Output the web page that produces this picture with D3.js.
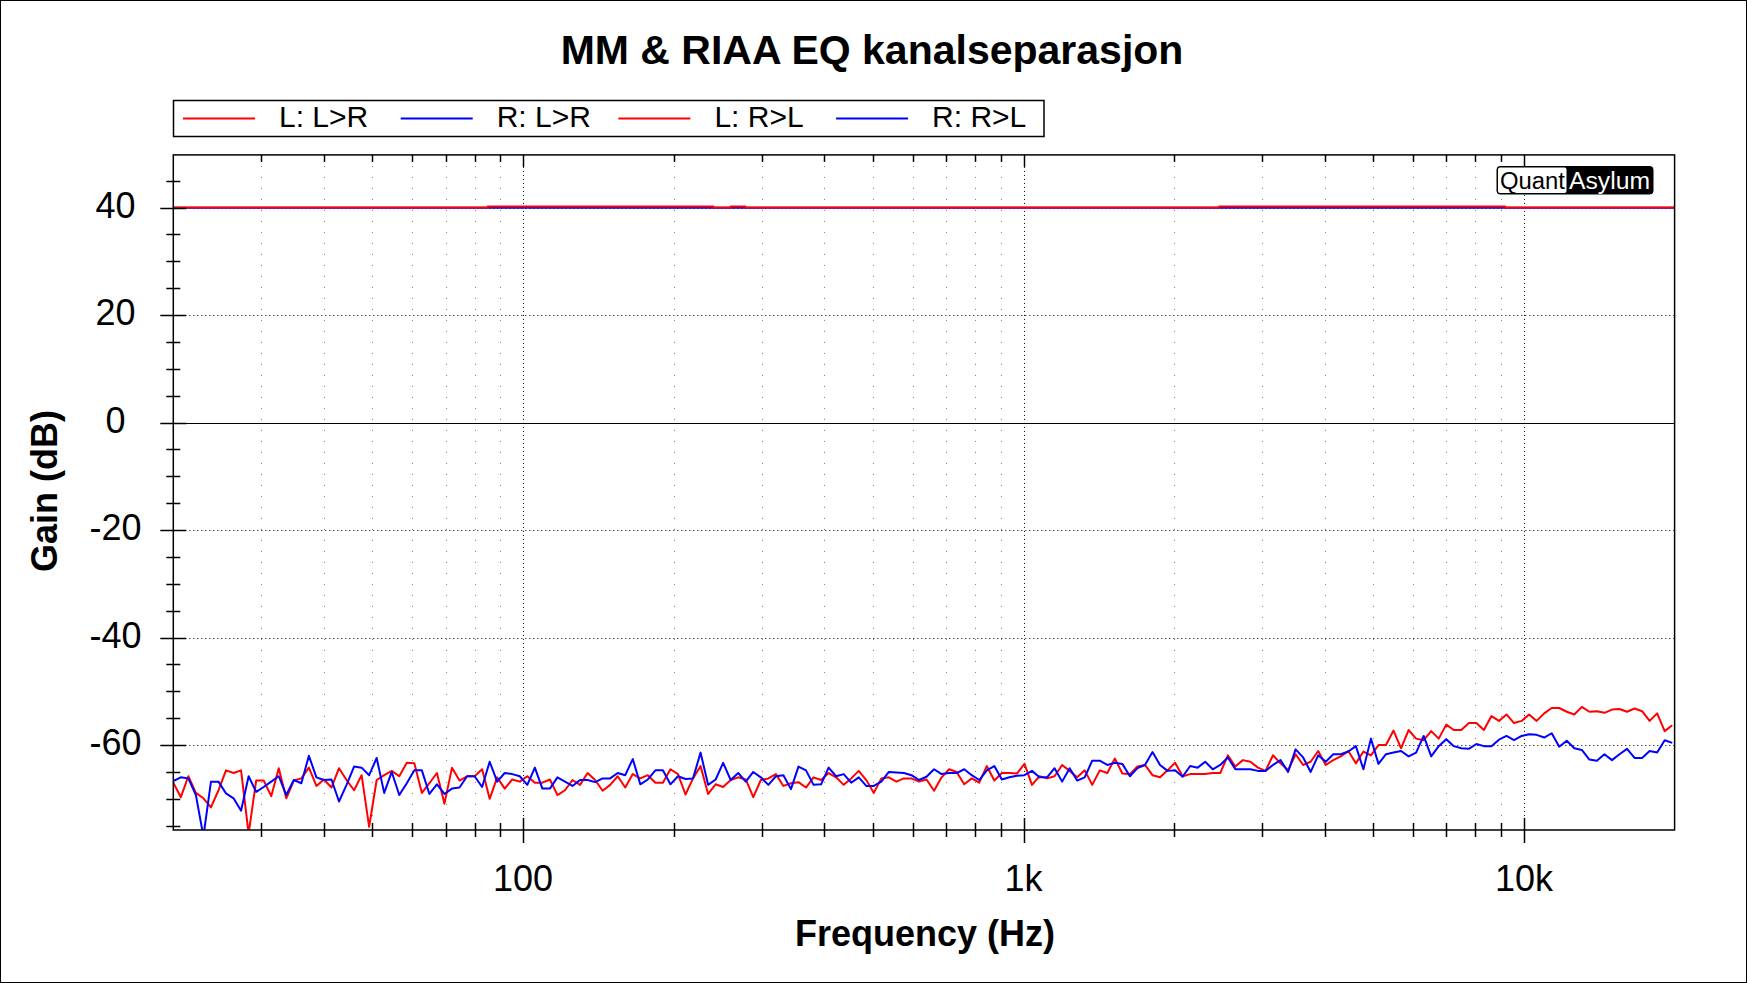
<!DOCTYPE html>
<html>
<head>
<meta charset="utf-8">
<script src="https://cdn.jsdelivr.net/npm/d3@7"></script>
<style>
  html, body { margin: 0; padding: 0; background: #fff; }
  svg { display: block; }
  text { font-family: "Liberation Sans", Arial, sans-serif; }
</style>
</head>
<body>
<svg id="chart" width="1747" height="983"></svg>
<script>
// ---------------- DATA ----------------
const titleText = "MM & RIAA EQ kanalseparasjon";
const xTitle = "Frequency (Hz)";
const yTitle = "Gain (dB)";
const seriesNames = ["L: L>R", "R: L>R", "L: R>L", "R: R>L"];
const seriesColors = ["#ff0000", "#0000ff", "#ff0000", "#0000ff"];

const xDomain = [20, 20000];
const yDomain = [-75.8, 49.8];
const xMajorTicks = [100, 1000, 10000];
const xMajorLabels = ["100", "1k", "10k"];
const xMinorTicks = [30, 40, 50, 60, 70, 80, 90, 200, 300, 400, 500, 600, 700, 800, 900,
  2000, 3000, 4000, 5000, 6000, 7000, 8000, 9000];
const yMajorTicks = [40, 20, 0, -20, -40, -60];
const yMinorTicks = [45, 35, 30, 25, 15, 10, 5, -5, -10, -15, -25, -30, -35, -45, -50, -55, -65, -70, -75];

// 1/20-octave measurement grid, 20 Hz .. ~19.4 kHz (200 points)
const freqs = d3.range(200).map(i => 20 * Math.pow(2, i / 20));

// Driven-channel gain (step segments): [fStart, fEnd, dB]
const gainLLR = [[20, 85, 40.0], [85, 240, 40.2], [240, 260, 40.0], [260, 278, 40.2],
  [278, 2460, 40.0], [2460, 9170, 40.2], [9170, 20000, 40.0]];
const gainRRL = [[20, 20000, 39.95]];

// Crosstalk: L: R>L (red)
const crossLRL = [
  -67.0, -69.7, -65.8, -68.9, -69.9, -71.6, -68.4, -64.7, -65.2, -64.7,
  -76.5, -66.6, -66.6, -69.5, -64.3, -69.9, -66.6, -66.2, -64.2, -67.6,
  -66.4, -67.9, -64.3, -66.5, -68.4, -65.6, -75.2, -66.5, -65.6, -64.8,
  -65.8, -63.3, -63.4, -68.9, -67.1,
  -65.2, -70.9, -64.2, -66.6, -65.8, -65.8, -64.5, -70.0, -66.0, -68.1,
  -66.4, -66.8, -65.8, -67.0, -67.0, -66.4, -69.3, -68.4, -66.5, -67.4,
  -65.2, -66.5, -68.5, -67.4, -65.8, -67.9, -65.4, -66.2, -65.6, -67.0,
  -67.0, -64.5, -65.4, -69.2,
  -66.2, -63.9, -69.1, -67.3, -67.8, -66.5, -66.0, -66.4, -69.7, -66.5,
  -66.2, -65.4, -67.6, -67.1, -66.9, -67.9, -66.0, -66.5, -65.2, -66.0,
  -67.4, -66.2, -64.8, -66.5, -68.9, -66.2, -66.0, -66.8, -66.2, -66.2,
  -66.8, -66.4, -68.5, -66.0,
  -64.5, -65.0, -67.3, -66.2, -67.0, -63.9, -66.6, -65.2, -65.2, -65.3,
  -63.5, -67.4, -65.8, -66.2, -65.8, -63.7, -64.8, -66.0, -64.7, -67.4,
  -64.7, -65.2, -62.5, -65.3, -65.4, -64.0, -63.7, -65.6, -66.0, -64.7,
  -63.3, -65.8, -65.4, -65.4, -65.4,
  -65.2, -65.2, -61.9, -64.0, -62.8, -63.1, -64.2, -64.8, -61.9, -63.4,
  -64.7, -61.7, -63.7, -63.1, -61.1, -63.7, -62.8, -62.1, -61.1, -63.4,
  -61.2, -61.9, -60.0, -60.0, -57.3, -60.6, -57.2, -58.8, -59.1, -57.4,
  -58.8, -56.2, -57.2, -57.2,
  -55.9, -55.9, -57.2, -54.6, -55.5, -54.3, -55.9, -55.5, -54.3, -55.5,
  -54.1, -53.1, -53.1, -53.8, -54.3, -52.9, -53.8, -53.7, -54.0, -53.4,
  -53.3, -53.8, -53.2, -53.7, -55.5, -54.1, -57.4, -56.3
];

// Crosstalk: R: L>R (blue)
const crossRLR = [
  -66.7, -66.0, -66.2, -69.3, -77.0, -66.8, -66.8, -69.0, -69.9, -72.2,
  -65.8, -68.7, -67.8, -66.8, -65.8, -69.3, -66.5, -67.1, -62.0, -66.0,
  -66.5, -66.4, -70.5, -67.4, -64.0, -64.2, -65.6, -62.4, -68.9, -65.0,
  -69.3, -67.1, -64.7, -64.7, -69.1,
  -67.3, -69.1, -68.1, -67.9, -65.8, -65.8, -67.8, -63.1, -66.8, -65.2,
  -65.4, -65.8, -67.4, -64.2, -68.1, -68.1, -66.0, -66.8, -67.6, -66.5,
  -66.5, -66.9, -66.2, -66.2, -65.2, -65.6, -62.6, -67.3, -66.4, -64.7,
  -64.7, -67.3, -65.8, -66.3,
  -66.2, -61.4, -67.4, -66.4, -63.3, -66.5, -65.2, -66.8, -65.0, -66.0,
  -67.4, -65.8, -65.6, -68.2, -64.0, -64.7, -67.4, -67.3, -64.2, -65.8,
  -65.4, -67.0, -66.0, -67.6, -67.6, -66.8, -65.0, -65.1, -65.2, -65.6,
  -66.5, -65.9, -64.5, -65.4,
  -65.2, -65.2, -64.5, -65.6, -66.5, -64.7, -63.9, -66.4, -66.0, -65.7,
  -65.6, -64.8, -66.0, -66.0, -64.3, -66.8, -64.3, -66.6, -66.0, -62.9,
  -62.9, -63.7, -63.3, -63.5, -65.8, -64.3, -63.7, -61.3, -63.7, -64.8,
  -64.7, -65.9, -63.9, -64.2, -63.1,
  -64.5, -63.7, -62.3, -64.5, -64.5, -64.5, -64.8, -64.8, -63.7, -62.8,
  -65.0, -60.8, -62.3, -65.0, -61.9, -63.1, -61.7, -61.7, -61.2, -60.2,
  -64.5, -58.8, -63.5, -61.7, -61.4, -61.1, -62.1, -61.4, -58.3, -62.1,
  -60.2, -58.9, -60.2, -60.6,
  -60.7, -59.8, -60.2, -60.2, -59.0, -58.3, -59.1, -58.3, -58.0, -58.1,
  -58.6, -57.8, -60.3, -59.2, -60.6, -60.9, -62.7, -62.9, -61.7, -62.8,
  -61.7, -60.7, -62.4, -62.4, -61.1, -61.4, -59.1, -59.6
];

// ---------------- CHART ----------------
const W = 1747, H = 983;
const plot = { left: 173.3, right: 1674.6, top: 154.9, bottom: 830 };
const svg = d3.select("#chart");

svg.append("rect").attr("x", 0.5).attr("y", 0.5).attr("width", W - 1).attr("height", H - 1)
  .attr("fill", "#fff").attr("stroke", "#000").attr("stroke-width", 1);

const x = d3.scaleLog().domain(xDomain).range([plot.left, plot.right]);
const y = d3.scaleLinear().domain(yDomain).range([plot.bottom, plot.top]);

svg.append("defs").append("clipPath").attr("id", "clip")
  .append("rect").attr("x", plot.left).attr("y", plot.top)
  .attr("width", plot.right - plot.left).attr("height", plot.bottom - plot.top);

const grid = svg.append("g");
grid.selectAll(".vmin").data(xMinorTicks).join("line")
  .attr("x1", d => Math.round(x(d)) + 0.5).attr("x2", d => Math.round(x(d)) + 0.5)
  .attr("y1", plot.top).attr("y2", plot.bottom)
  .attr("stroke", "#777").attr("stroke-width", 1).attr("stroke-dasharray", "1,10");
grid.selectAll(".vmaj").data(xMajorTicks).join("line")
  .attr("x1", d => Math.round(x(d)) + 0.5).attr("x2", d => Math.round(x(d)) + 0.5)
  .attr("y1", plot.top).attr("y2", plot.bottom)
  .attr("stroke", "#000").attr("stroke-width", 1).attr("stroke-dasharray", "1,3");
grid.selectAll(".hmaj").data(yMajorTicks.filter(d => d !== 0)).join("line")
  .attr("x1", plot.left).attr("x2", plot.right)
  .attr("y1", d => Math.round(y(d)) + 0.5).attr("y2", d => Math.round(y(d)) + 0.5)
  .attr("stroke", "#000").attr("stroke-width", 1).attr("stroke-dasharray", "1,3");
grid.append("line").attr("x1", plot.left).attr("x2", plot.right)
  .attr("y1", Math.round(y(0)) + 0.5).attr("y2", Math.round(y(0)) + 0.5)
  .attr("stroke", "#000").attr("stroke-width", 1);

// traces
const traces = svg.append("g").attr("clip-path", "url(#clip)");
const line = d3.line().x(d => x(d[0])).y(d => y(d[1]));
function stepPoints(segs) {
  const pts = [];
  segs.forEach(s => { pts.push([s[0], s[2]]); pts.push([s[1], s[2]]); });
  return pts;
}
const drawOrder = [
  { pts: stepPoints(gainRRL), color: seriesColors[3] },
  { pts: freqs.map((f, i) => [f, crossLRL[i]]), color: seriesColors[2] },
  { pts: freqs.map((f, i) => [f, crossRLR[i]]), color: seriesColors[1] },
  { pts: stepPoints(gainLLR), color: seriesColors[0] }
];
drawOrder.forEach(s => {
  traces.append("path").datum(s.pts).attr("d", line)
    .attr("fill", "none").attr("stroke", s.color).attr("stroke-width", 2)
    .attr("stroke-linejoin", "round");
});

// plot frame
svg.append("rect").attr("x", plot.left).attr("y", plot.top)
  .attr("width", plot.right - plot.left).attr("height", plot.bottom - plot.top)
  .attr("fill", "none").attr("stroke", "#000").attr("stroke-width", 1.5);

// ticks
const ticks = svg.append("g").attr("stroke", "#000").attr("stroke-width", 1.5);
xMinorTicks.forEach(d => {
  const xx = Math.round(x(d)) + 0.5;
  ticks.append("line").attr("x1", xx).attr("x2", xx).attr("y1", plot.bottom - 7).attr("y2", plot.bottom + 7);
  ticks.append("line").attr("x1", xx).attr("x2", xx).attr("y1", plot.top).attr("y2", plot.top + 7);
});
xMajorTicks.forEach(d => {
  const xx = Math.round(x(d)) + 0.5;
  ticks.append("line").attr("x1", xx).attr("x2", xx).attr("y1", plot.bottom - 12).attr("y2", plot.bottom + 13);
  ticks.append("line").attr("x1", xx).attr("x2", xx).attr("y1", plot.top).attr("y2", plot.top + 12);
});
yMinorTicks.forEach(d => {
  const yy = Math.round(y(d)) + 0.5;
  ticks.append("line").attr("x1", plot.left - 7).attr("x2", plot.left + 7).attr("y1", yy).attr("y2", yy);
});
yMajorTicks.forEach(d => {
  const yy = Math.round(y(d)) + 0.5;
  ticks.append("line").attr("x1", plot.left - 13).attr("x2", plot.left + 13).attr("y1", yy).attr("y2", yy);
});

// tick labels
svg.selectAll(".xl").data(xMajorTicks).join("text")
  .attr("x", d => x(d)).attr("y", 891)
  .attr("text-anchor", "middle").attr("font-size", 36).attr("fill", "#000")
  .text((d, i) => xMajorLabels[i]);
svg.selectAll(".yl").data(yMajorTicks).join("text")
  .attr("x", 115.5).attr("y", d => y(d) - 3).attr("dy", "0.36em")
  .attr("text-anchor", "middle").attr("font-size", 36).attr("fill", "#000")
  .text(d => d);

// titles
svg.append("text").attr("x", 872).attr("y", 64).attr("text-anchor", "middle")
  .attr("font-size", 41).attr("font-weight", "bold").text(titleText);
svg.append("text").attr("x", 925).attr("y", 946).attr("text-anchor", "middle")
  .attr("font-size", 36).attr("font-weight", "bold").text(xTitle);
svg.append("text").attr("transform", "translate(57,491) rotate(-90)").attr("text-anchor", "middle")
  .attr("font-size", 36).attr("font-weight", "bold").text(yTitle);

// legend
const lg = svg.append("g");
lg.append("rect").attr("x", 173.5).attr("y", 100.5).attr("width", 870.5).attr("height", 36)
  .attr("fill", "#fff").attr("stroke", "#000").attr("stroke-width", 1.5);
seriesNames.forEach((name, i) => {
  const x0 = 183 + i * 217.7;
  lg.append("line").attr("x1", x0).attr("x2", x0 + 72).attr("y1", 118.5).attr("y2", 118.5)
    .attr("stroke", seriesColors[i]).attr("stroke-width", 2);
  lg.append("text").attr("x", x0 + 96).attr("y", 127).attr("font-size", 30).text(name);
});

// QuantAsylum badge
const badge = svg.append("g");
badge.append("rect").attr("x", 1497).attr("y", 166.5).attr("width", 156).attr("height", 27.5)
  .attr("rx", 3).attr("fill", "#000").attr("stroke", "#000");
badge.append("rect").attr("x", 1498).attr("y", 167.5).attr("width", 68.5).attr("height", 25.5)
  .attr("rx", 2).attr("fill", "#fff");
badge.append("text").attr("x", 1500).attr("y", 188.5).attr("font-family", "'Noto Sans', sans-serif")
  .attr("font-size", 23).attr("fill", "#000").attr("textLength", 65).attr("lengthAdjust", "spacingAndGlyphs").text("Quant");
badge.append("text").attr("x", 1569).attr("y", 188.5).attr("font-family", "'Noto Sans', sans-serif")
  .attr("font-size", 23).attr("fill", "#fff").attr("textLength", 81).attr("lengthAdjust", "spacingAndGlyphs").text("Asylum");
</script>
</body>
</html>
